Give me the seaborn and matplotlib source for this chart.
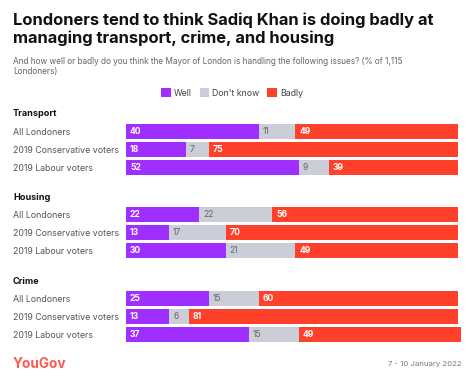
import pandas as pd
import seaborn as sns
import matplotlib.pyplot as plt
from matplotlib.patches import Patch

# data
issues = ["Transport", "Housing", "Crime"]
groups = ["All Londoners", "2019 Conservative voters", "2019 Labour voters"]
well = [[40, 18, 52], [22, 13, 30], [25, 13, 37]]
dont_know = [[11, 7, 9], [22, 17, 21], [15, 6, 15]]
badly = [[49, 75, 39], [56, 70, 49], [60, 81, 49]]

answers = ["Well", "Don't know", "Badly"]
colors = ["#9e2fff", "#cbced8", "#ff412c"]

sns.set_theme(style="white")
plt.rcParams["font.family"] = ["Inter", "DejaVu Sans"]

W, H = 474, 384
fig = plt.figure(figsize=(W / 100, H / 100), dpi=100)
fig.patch.set_facecolor("white")


def fx(px):
    return px / W


def fy(py):
    return 1 - py / H


# title / subtitle
fig.text(fx(13), fy(25), "Londoners tend to think Sadiq Khan is doing badly at",
         fontsize=11.9, fontweight="bold", color="#111111", va="baseline")
fig.text(fx(13), fy(43.5), "managing transport, crime, and housing",
         fontsize=11.9, fontweight="bold", color="#111111", va="baseline")
fig.text(fx(13), fy(64), "And how well or badly do you think the Mayor of London is "
         "handling the following issues? (% of 1,115",
         fontsize=5.9, color="#666666", va="baseline")
fig.text(fx(13), fy(74), "Londoners)", fontsize=5.9, color="#666666", va="baseline")

# legend
handles = [Patch(facecolor=c, edgecolor="none", label=a) for a, c in zip(answers, colors)]
fig.legend(handles=handles, loc="center", bbox_to_anchor=(fx(232), fy(93)), ncol=3,
           frameon=False, fontsize=6.3, handlelength=1.1, handleheight=1.1,
           handletextpad=0.35, columnspacing=0.9, labelcolor="#444444")

# one axes per issue (top, bottom in pixels)
tops = [122.5, 205.5, 289.3]
heads = [114, 197, 281]
for i, issue in enumerate(issues):
    top = tops[i]
    ax = fig.add_axes([fx(126), fy(top + 54), fx(458) - fx(126), 54 / H])
    df = pd.DataFrame({"group": groups, "Well": well[i],
                       "Don't know": dont_know[i], "Badly": badly[i]})
    df["c_well"] = df["Well"]
    df["c_dk"] = df["Well"] + df["Don't know"]
    df["c_bad"] = df["c_dk"] + df["Badly"]
    # stacked bars by drawing cumulative totals back to front
    for col, c in zip(["c_bad", "c_dk", "c_well"], colors[::-1]):
        sns.barplot(data=df, x=col, y="group", color=c, saturation=1,
                    width=0.83, linewidth=0, ax=ax)
    for p in ax.patches:
        p.set_clip_on(False)
    ax.set_xlim(0, 100)
    ax.set_ylim(2.5, -0.5)
    ax.set_xlabel("")
    ax.set_ylabel("")
    ax.set_xticks([])
    sns.despine(ax=ax, left=True, bottom=True)
    ax.tick_params(axis="y", length=0, pad=113 * 0.72, labelsize=6.35, labelcolor="#555555")
    for lab in ax.get_yticklabels():
        lab.set_horizontalalignment("left")

    # value labels
    for j in range(len(groups)):
        ax.text(1.2, j, str(well[i][j]), color="white", fontweight="bold",
                fontsize=6.2, va="center", ha="left")
        ax.text(well[i][j] + 1.2, j, str(dont_know[i][j]), color="#666666",
                fontsize=6.2, va="center", ha="left")
        ax.text(well[i][j] + dont_know[i][j] + 1.2, j, str(badly[i][j]), color="white",
                fontweight="bold", fontsize=6.2, va="center", ha="left")

    fig.text(fx(13), fy(heads[i]), issue, fontsize=6.5, fontweight="bold",
             color="#111111", va="center")

# footer
fig.text(fx(13), fy(368), "YouGov", fontsize=9.8, fontweight="bold", color="#ff5a50",
         va="baseline")
fig.text(fx(462), fy(366), "7 - 10 January 2022", fontsize=5.6, color="#777777",
         ha="right", va="baseline")

fig.savefig("out.png", dpi=100, facecolor="white")
